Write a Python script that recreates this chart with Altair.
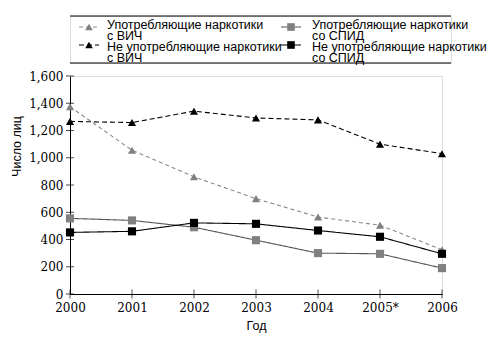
import altair as alt
import pandas as pd

years = ["2000", "2001", "2002", "2003", "2004", "2005*", "2006"]
series_names = [
    "Употребляющие наркотики\nс ВИЧ",
    "Не употребляющие наркотики\nс ВИЧ",
    "Употребляющие наркотики\nсо СПИД",
    "Не употребляющие наркотики\nсо СПИД",
]
users_hiv = [1375, 1055, 860, 700, 565, 505, 325]
nonusers_hiv = [1267, 1258, 1342, 1292, 1278, 1100, 1030]
users_aids = [555, 540, 490, 395, 300, 295, 190]
nonusers_aids = [452, 460, 522, 515, 466, 420, 295]
y_ticks = [0, 200, 400, 600, 800, 1000, 1200, 1400, 1600]

all_vals = [users_hiv, nonusers_hiv, users_aids, nonusers_aids]
rows = []
for name, vals in zip(series_names, all_vals):
    for yr, v in zip(years, vals):
        rows.append({"year": yr, "series": name, "value": v})
df = pd.DataFrame(rows)

marker_colors = ["#808080", "#000000", "#808080", "#000000"]
line_colors = ["#8a8a8a", "#000000", "#555555", "#000000"]
shapes = ["triangle-up", "triangle-up", "square", "square"]
dashes = [[4, 3], [5, 3], [1, 0], [1, 0]]

W, H = 372, 218
SERIF = "DejaVu Serif"
SANS = "Liberation Sans"

xs = alt.X("year:O", sort=years, scale=alt.Scale(type="point", padding=0),
           axis=alt.Axis(title="Год", labelAngle=0, labelFont=SERIF, labelFontSize=12,
                         labelColor="black", titleFont=SANS, titleFontSize=12.5,
                         titleFontWeight="normal", titleColor="black", ticks=False,
                         domainColor="black", labelPadding=8, titlePadding=6,
                         labelOverlap=False))
ys = alt.Y("value:Q", scale=alt.Scale(domain=[0, 1600], nice=False),
           axis=alt.Axis(title="Число лиц", values=y_ticks, format=",d", grid=False,
                         labelFont=SERIF, labelFontSize=12, labelColor="black",
                         titleFont=SANS, titleFontSize=12.5, titleFontWeight="normal",
                         titleColor="black", ticks=False, domainColor="black",
                         labelPadding=7, titleY=70, titleX=-47, titleAlign="center",
                         labelOverlap=False, labelBound=False, labelFlush=False))

col_line = alt.Color("series:N", sort=series_names,
                     scale=alt.Scale(domain=series_names, range=line_colors), legend=None)
col_mark = alt.Color("series:N", sort=series_names,
                     scale=alt.Scale(domain=series_names, range=marker_colors), legend=None)
shp = alt.Shape("series:N", scale=alt.Scale(domain=series_names, range=shapes), legend=None)
dsh = alt.StrokeDash("series:N", scale=alt.Scale(domain=series_names, range=dashes), legend=None)

base = alt.Chart(df)
lines = base.mark_line(strokeWidth=1.1).encode(x=xs, y=ys, stroke=col_line, strokeDash=dsh,
                                               detail="series:N")
points = base.mark_point(filled=True, size=66, opacity=1).encode(
    x=xs, y=ys, fill=col_mark, shape=shp)

xt = pd.DataFrame({"year": years, "value": [0] * len(years)})
xticks = alt.Chart(xt).mark_tick(orient="vertical", size=9, thickness=1, color="black").encode(
    x=xs, y=ys)
yt = pd.DataFrame({"year": [years[0]] * len(y_ticks), "value": y_ticks})
yticks = alt.Chart(yt).mark_tick(orient="horizontal", size=8, thickness=1, color="black").encode(
    x=xs, y=ys)

main = alt.layer(lines, points, xticks, yticks).properties(width=W, height=H)

# legend panel
LW, LH = 381, 47
leg = pd.DataFrame({
    "series": series_names,
    "col": [0, 0, 1, 1],
    "row": [0, 1, 0, 1],
})
lx = alt.X("col:Q", scale=alt.Scale(domain=[0, 1], range=[19, 221]), axis=None)
ly = alt.Y("row:Q", scale=alt.Scale(domain=[0, 1], range=[11, 29]), axis=None)
lbase = alt.Chart(leg)
lseg = lbase.mark_rule(xOffset=-10, x2Offset=10, strokeWidth=1.1).encode(
    x=lx, x2="col:Q", y=ly, stroke=col_line, strokeDash=dsh)
lpts = lbase.mark_point(filled=True, size=58, opacity=1).encode(
    x=lx, y=ly, fill=col_mark, shape=shp)
ltxt = lbase.mark_text(align="left", baseline="top", lineBreak="\n", lineHeight=10.5,
                       font=SANS, fontSize=12.5, color="black").encode(
    x=alt.X("col:Q", scale=alt.Scale(domain=[0, 1], range=[37, 242]), axis=None),
    y=alt.Y("row:Q", scale=alt.Scale(domain=[0, 1], range=[3, 25]), axis=None),
    text="series:N")
frame = pd.DataFrame({"edge": [0, 1]})
lframe = alt.Chart(frame).mark_rule(color="black", strokeWidth=1).encode(
    y=alt.Y("edge:Q", scale=alt.Scale(domain=[0, 1], range=[0, LH]), axis=None),
    x=alt.value(0), x2=alt.value(LW))
legend = alt.layer(lframe, lseg, lpts, ltxt).resolve_scale(x="independent", y="independent").properties(
    width=LW, height=LH)

chart = alt.vconcat(legend, main, spacing=13, bounds="flush").properties(
    padding={"left": 9, "top": 15, "right": 1, "bottom": 5}
).configure_view(stroke=None).configure(background="white").configure_axis(labelOverlap=False)

chart.save("out.html", embed_options={"renderer": "svg", "actions": False})
